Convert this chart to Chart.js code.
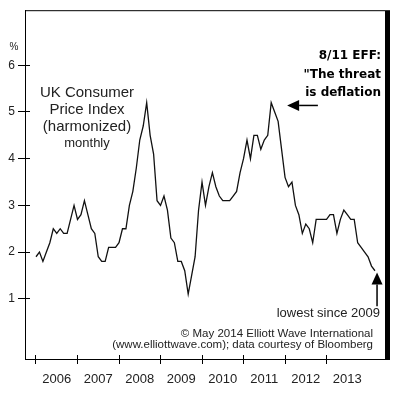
<!DOCTYPE html>
<html>
<head>
<meta charset="utf-8">
<script src="https://cdn.jsdelivr.net/npm/chart.js"></script>
<style>
html,body{margin:0;padding:0;background:#fff;}
#wrap{width:394px;height:398px;position:relative;}
</style>
</head>
<body>
<div id="wrap"><canvas id="c" width="394" height="398"></canvas></div>
<script>
// Year labels (centered in each year)
const years = ['2006','2007','2008','2009','2010','2011','2012','2013'];
// Y tick values (%)
const yTicks = [1, 2, 3, 4, 5, 6];
// UK CPI (harmonized), monthly, Jan 2006 .. Mar 2014
const cpi2006 = [1.9, 2.0, 1.8, 2.0, 2.2, 2.5, 2.4, 2.5, 2.4, 2.4, 2.7, 3.0];
const cpi2007 = [2.7, 2.8, 3.1, 2.8, 2.5, 2.4, 1.9, 1.8, 1.8, 2.1, 2.1, 2.1];
const cpi2008 = [2.2, 2.5, 2.5, 3.0, 3.3, 3.8, 4.4, 4.7, 5.2, 4.5, 4.1, 3.1];
const cpi2009 = [3.0, 3.2, 2.9, 2.3, 2.2, 1.8, 1.8, 1.6, 1.1, 1.5, 1.9, 2.9];
const cpi2010 = [3.5, 3.0, 3.4, 3.7, 3.4, 3.2, 3.1, 3.1, 3.1, 3.2, 3.3, 3.7];
const cpi2011 = [4.0, 4.4, 4.0, 4.5, 4.5, 4.2, 4.4, 4.5, 5.2, 5.0, 4.8, 4.2];
const cpi2012 = [3.6, 3.4, 3.5, 3.0, 2.8, 2.4, 2.6, 2.5, 2.2, 2.7, 2.7, 2.7];
const cpi2013 = [2.7, 2.8, 2.8, 2.4, 2.7, 2.9, 2.8, 2.7, 2.7, 2.2, 2.1, 2.0];
const cpi2014 = [1.9, 1.7, 1.6];
const cpi = [].concat(cpi2006, cpi2007, cpi2008, cpi2009, cpi2010, cpi2011, cpi2012, cpi2013, cpi2014);

const points = cpi.map((v, i) => ({x: i, y: v}));
const FONT = '"Liberation Sans", Arial, sans-serif';

const deco = {
  id: 'deco',
  afterDraw(chart) {
    const {ctx, chartArea: a, scales: {x, y}} = chart;
    const al = p => Math.round(p - 0.5) + 0.5;
    ctx.save();
    ctx.strokeStyle = '#000';
    ctx.fillStyle = '#000';
    ctx.lineWidth = 1;
    // box top edge
    ctx.beginPath();
    ctx.moveTo(a.left, a.top + 0.5);
    ctx.lineTo(a.right, a.top + 0.5);
    ctx.stroke();
    // thick right edge
    ctx.fillRect(a.right, a.top, 5, a.bottom - a.top + 1);
    // inner parts of tick marks
    ctx.beginPath();
    x.ticks.forEach(t => {
      if (t.value % 12 === 0) {
        const px = al(x.getPixelForValue(t.value));
        ctx.moveTo(px, a.bottom - 4);
        ctx.lineTo(px, a.bottom);
      }
    });
    y.ticks.forEach(t => {
      const py = al(y.getPixelForValue(t.value));
      ctx.moveTo(a.left, py);
      ctx.lineTo(a.left + 5, py);
    });
    ctx.stroke();

    // % label
    ctx.fillStyle = '#222';
    ctx.textAlign = 'center';
    ctx.textBaseline = 'middle';
    ctx.font = '10px ' + FONT;
    ctx.fillText('%', 14, 47);

    // title block
    ctx.font = '15px ' + FONT;
    ctx.fillText('UK Consumer', 87, 93);
    ctx.fillText('Price Index', 87, 110);
    ctx.fillText('(harmonized)', 87, 127);
    ctx.font = '13px ' + FONT;
    ctx.fillText('monthly', 87, 143);

    // EFF note
    ctx.fillStyle = '#000';
    ctx.textAlign = 'right';
    ctx.font = 'bold 12px "DejaVu Sans", Verdana, sans-serif';
    ctx.fillText('8/11 EFF:', 381, 56);
    ctx.fillText('"The threat', 381, 75);
    ctx.fillText('is deflation', 381, 93);

    // lowest since 2009
    ctx.fillStyle = '#222';
    ctx.font = '13px ' + FONT;
    ctx.fillText('lowest since 2009', 380, 313);

    // credits
    ctx.font = '11.5px ' + FONT;
    ctx.fillText('\u00A9 May 2014 Elliott Wave International', 373, 333.5);
    ctx.fillText('(www.elliottwave.com); data courtesy of Bloomberg', 373, 345);

    // arrows
    function arrow(tx, ty, sx, sy) {
      const ang = Math.atan2(sy - ty, sx - tx);
      const hl = 12, hw = 5.5;
      const bx = tx + Math.cos(ang) * hl, by = ty + Math.sin(ang) * hl;
      ctx.strokeStyle = '#000';
      ctx.fillStyle = '#000';
      ctx.lineWidth = 1.5;
      ctx.beginPath();
      ctx.moveTo(bx, by);
      ctx.lineTo(sx, sy);
      ctx.stroke();
      ctx.beginPath();
      ctx.moveTo(tx, ty);
      ctx.lineTo(bx - Math.sin(ang) * hw, by + Math.cos(ang) * hw);
      ctx.lineTo(bx + Math.sin(ang) * hw, by - Math.cos(ang) * hw);
      ctx.closePath();
      ctx.fill();
    }
    arrow(x.getPixelForValue(72.6), y.getPixelForValue(5.14), x.getPixelForValue(81.5), y.getPixelForValue(5.14));
    arrow(x.getPixelForValue(98.6), y.getPixelForValue(1.56), x.getPixelForValue(98.6), y.getPixelForValue(0.84));
    ctx.restore();
  }
};

new Chart(document.getElementById('c'), {
  type: 'line',
  data: {
    datasets: [{
      data: points,
      borderColor: '#111',
      borderWidth: 1.3,
      pointRadius: 0,
      tension: 0,
      fill: false
    }]
  },
  options: {
    responsive: false,
    animation: false,
    devicePixelRatio: 1,
    layout: {padding: {top: 7, right: 9, left: 0, bottom: 0}},
    plugins: {legend: {display: false}, tooltip: {enabled: false}},
    scales: {
      x: {
        type: 'linear',
        min: -3.18,
        max: 100.9,
        afterBuildTicks: s => { s.ticks = []; for (let v = 0; v <= 90; v += 6) s.ticks.push({value: v}); },
        afterFit: s => { s.height = 39; },
        ticks: {
          autoSkip: false,
          maxRotation: 0,
          padding: 8,
          color: '#222',
          font: {family: FONT, size: 13},
          callback: v => (v % 12 === 6 ? years[(v - 6) / 12] : '')
        },
        grid: {
          drawOnChartArea: false,
          tickLength: 5,
          color: c => (c.tick && c.tick.value % 12 === 0 ? '#000' : 'rgba(0,0,0,0)')
        },
        border: {color: '#000', width: 1}
      },
      y: {
        type: 'linear',
        min: -0.29,
        max: 7.18,
        afterBuildTicks: s => { s.ticks = yTicks.map(v => ({value: v})); },
        afterFit: s => { s.width = 25; },
        ticks: {
          padding: 3,
          color: '#222',
          font: {family: FONT, size: 12}
        },
        grid: {drawOnChartArea: false, tickLength: 7, color: '#000'},
        border: {color: '#000', width: 1}
      }
    }
  },
  plugins: [deco]
});
</script>
</body>
</html>
